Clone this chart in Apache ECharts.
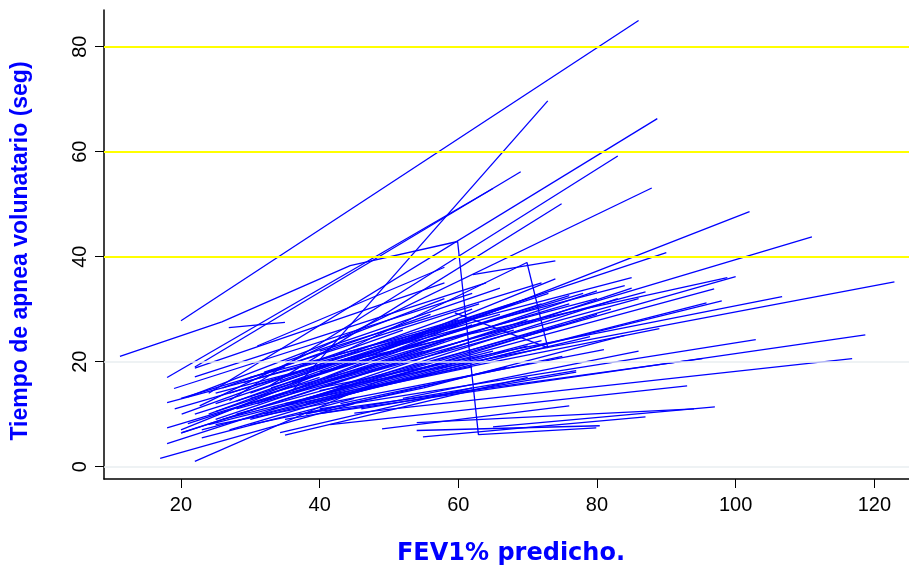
<!DOCTYPE html>
<html>
<head>
<meta charset="utf-8">
<title>Tiempo de apnea voluntario vs FEV1%</title>
<script src="https://cdn.jsdelivr.net/npm/echarts@6/dist/echarts.min.js"></script>
<style>
html, body { margin: 0; padding: 0; background: #fff; }
#main { width: 909px; height: 568px; }
</style>
</head>
<body>
<div id="main"></div>
<script>
// primera y segunda medicion de cada paciente (FEV1%, tiempo en seg)
var fev1 = [20.0, 36.1, 22.0, 18.0, 24.0, 27.0, 22.7, 32.8, 31.0, 38.0, 34.3, 62.1, 40.0, 37.0, 40.0, 40.0, 40.0, 45.0, 40.0, 37.0, 41.5, 65.0, 54.0, 54.9, 49.0, 54.0, 26.9,
    30, 25, 30, 28, 22, 35, 25, 32, 35, 20, 25, 30, 33, 38,
    20.1, 21, 18, 19.1, 18, 20, 18, 17, 22, 22, 22, 19, 31, 34.3, 35, 24, 26, 23, 28, 30,
    25, 27, 33, 36, 40, 38, 42, 21, 20.1, 24, 29, 32, 26, 35, 40, 45, 44, 48, 50, 38,
    43, 30, 33, 46, 52, 55, 23, 27, 28, 36, 41, 47, 50, 25, 30, 37, 20];
var tiempo1 = [27.8, 14.5, 19.0, 17.0, 14.0, 12.6, 11.6, 15.4, 12.0, 15.0, 16.4, 36.6, 14.5, 12.6, 15.0, 19.0, 10.1, 10.2, 11.0, 10.0, 8.0, 7.6, 8.4, 5.7, 7.2, 6.9, 26.5,
    17, 14, 13, 11, 10, 12, 8, 10, 9, 7, 9, 9, 11, 12,
    10.0, 13.3, 12.2, 11.0, 7.4, 6.4, 4.4, 1.6, 1.0, 18.8, 17.1, 14.9, 23.0, 6.5, 6.0, 8.0, 9.0, 7.0, 10.0, 12.0,
    12, 14, 15, 16, 18, 13, 15, 8.2, 6.5, 10, 16, 18, 15, 20, 22, 19, 14, 16, 18, 10,
    12, 8, 11, 11, 13, 15, 5.5, 7, 12.5, 14, 17, 21, 23, 10.5, 14, 19, 13];
var fev2 = [86.0, 72.9, 69.0, 65.0, 88.7, 83.0, 87.9, 74.9, 102.0, 111.0, 90.0, 74.0, 122.9, 100.0, 106.7, 98.8, 118.7, 116.8, 102.9, 95.2, 93.0, 97.0, 94.0, 87.0, 76.0, 80.4, 35.0,
    85, 84, 87, 86, 76, 89, 81, 79, 77, 74, 80, 95.8, 96.9, 98,
    62, 58, 60, 66, 55, 70, 50, 45, 48, 58, 64, 62, 58, 62, 70, 60, 65, 72, 75, 68,
    66, 70, 78, 72, 80, 82, 85, 58, 52, 55, 60, 63, 56, 66, 72, 76, 70, 80, 83, 67,
    75, 55, 62, 77, 86, 84, 45, 50, 48, 58, 62, 68, 73, 40, 45, 52, 35];
var tiempo2 = [85.0, 69.7, 56.2, 53.0, 66.3, 59.2, 53.1, 50.1, 48.6, 43.8, 40.8, 39.2, 35.2, 36.2, 32.4, 36.0, 25.1, 20.6, 24.2, 20.6, 15.4, 11.4, 11.0, 9.5, 11.6, 7.8, 27.5,
    36, 34.5, 33.3, 32, 32.6, 26.3, 22.3, 24.8, 18.3, 35.8, 33.5, 31.2, 33.9, 31.6,
    30, 32, 27, 29, 22, 28, 18, 12, 16, 35, 35, 33, 38, 15, 17, 20, 22, 24, 27, 26,
    30, 32, 33, 31, 32, 30, 34, 24, 20, 25, 28, 31, 29, 34, 35, 31, 23, 29, 32, 19,
    21, 15, 19, 18, 22, 25, 13, 16, 22, 24, 27, 31, 33, 17, 21, 26, 19];

// pacientes con mas de dos mediciones
var zigFevA = [11.2, 25.9, 44.4, 59.9, 62.9, 79.9];
var zigTiempoA = [21.0, 27.6, 38.3, 42.9, 6.1, 7.4];
var zigFevB = [42.0, 69.9, 72.9, 59.5];
var zigTiempoB = [21.0, 38.9, 22.7, 29.3];

var xTicks = [20, 40, 60, 80, 100, 120];
var yTicks = [0, 20, 40, 60, 80];
var refLevels = [0, 20, 40, 60, 80];
var refColors = ['#e8eef0', '#e8eef0', '#ffff00', '#ffff00', '#ffff00'];

var chart = echarts.init(document.getElementById('main'));

function lineStyleBlue() {
    return { color: '#0000ff', width: 1.3 };
}

function pairs(xs, ys) {
    return xs.map(function (x, i) { return [x, ys[i]]; });
}

var series = [{
    type: 'line',
    data: [],
    silent: true,
    markLine: {
        silent: true,
        symbol: 'none',
        animation: false,
        label: { show: false },
        data: refLevels.map(function (v, i) {
            return { yAxis: v, lineStyle: { color: refColors[i], width: i < 2 ? 1.5 : 2, type: 'solid' } };
        })
    }
}];

for (var i = 0; i < fev1.length; i++) {
    series.push({
        type: 'line',
        data: [[fev1[i], tiempo1[i]], [fev2[i], tiempo2[i]]],
        symbol: 'none',
        silent: true,
        lineStyle: lineStyleBlue()
    });
}
series.push({ type: 'line', data: pairs(zigFevA, zigTiempoA), symbol: 'none', silent: true, lineStyle: lineStyleBlue() });
series.push({ type: 'line', data: pairs(zigFevB, zigTiempoB), symbol: 'none', silent: true, lineStyle: lineStyleBlue() });

var option = {
    animation: false,
    backgroundColor: '#fff',
    grid: { left: 104, right: 0, top: 10, bottom: 89, containLabel: false },
    xAxis: {
        type: 'value',
        min: 8.9,
        max: 125,
        axisLine: { show: true, onZero: false, lineStyle: { color: '#000', width: 1.5 } },
        axisTick: { show: true, customValues: xTicks, length: 9, lineStyle: { color: '#000', width: 1 } },
        axisLabel: { customValues: xTicks, color: '#000', fontSize: 20, fontFamily: 'Liberation Sans, Arial, sans-serif', margin: 16 },
        splitLine: { show: false }
    },
    yAxis: {
        type: 'value',
        min: -2.34,
        max: 87,
        axisLine: { show: true, onZero: false, lineStyle: { color: '#000', width: 1.5 } },
        axisTick: { show: true, customValues: yTicks, length: 9, lineStyle: { color: '#000', width: 1 } },
        axisLabel: { customValues: yTicks, rotate: 90, color: '#000', fontSize: 20, fontFamily: 'Liberation Sans, Arial, sans-serif', margin: 14 },
        splitLine: { show: false }
    },
    graphic: [
        {
            type: 'text',
            x: 21, y: 251,
            rotation: Math.PI / 2,
            style: {
                text: 'Tiempo de apnea volunatario (seg)',
                font: 'bold 23px Liberation Sans, Arial, sans-serif',
                fill: '#0000ff',
                textAlign: 'center',
                textVerticalAlign: 'middle'
            }
        },
        {
            type: 'text',
            x: 511, y: 554,
            style: {
                text: 'FEV1% predicho.',
                font: 'bold 24px DejaVu Sans, sans-serif',
                fill: '#0000ff',
                textAlign: 'center',
                textVerticalAlign: 'middle'
            }
        }
    ],
    series: series
};

chart.setOption(option);
</script>
</body>
</html>
